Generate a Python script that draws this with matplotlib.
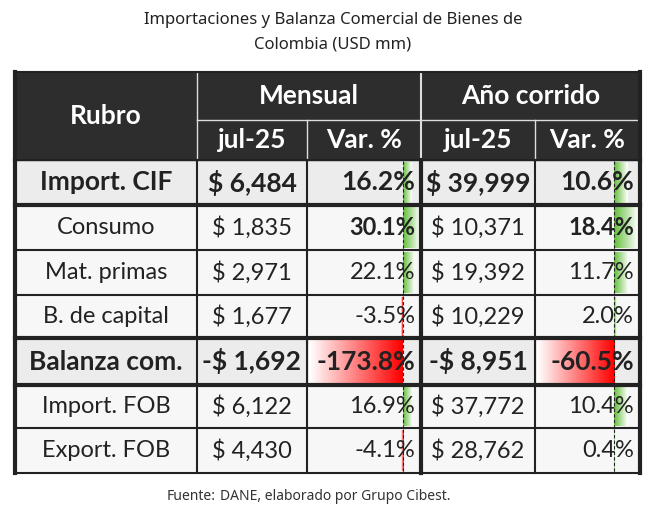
import matplotlib
matplotlib.use("Agg")
import matplotlib.pyplot as plt
import numpy as np
from matplotlib.colors import LinearSegmentedColormap

rubros = ["Import. CIF", "Consumo", "Mat. primas", "B. de capital", "Balanza com.", "Import. FOB", "Export. FOB"]
mensual_val = ["$ 6,484", "$ 1,835", "$ 2,971", "$ 1,677", "-$ 1,692", "$ 6,122", "$ 4,430"]
mensual_var = [16.2, 30.1, 22.1, -3.5, -173.8, 16.9, -4.1]
anual_val = ["$ 39,999", "$ 10,371", "$ 19,392", "$ 10,229", "-$ 8,951", "$ 37,772", "$ 28,762"]
anual_var = [10.6, 18.4, 11.7, 2.0, -60.5, 10.4, 0.4]
bold_rows = [0, 4]

W, H = 670, 509
fig = plt.figure(figsize=(W/100, H/100), dpi=100)
ax = fig.add_axes([0, 0, 1, 1])
ax.set_xlim(0, W); ax.set_ylim(H, 0); ax.axis("off")
F = "Lato"

ax.text(333, 20, "Importaciones y Balanza Comercial de Bienes de", ha="center", va="center", fontsize=12, family="Noto Sans", color="#222")
ax.text(333, 44, "Colombia (USD mm)", ha="center", va="center", fontsize=12, family="Noto Sans", color="#222")
ax.text(216, 497, "Fuente:", ha="right", va="center", fontsize=10, family="Noto Sans", weight="bold", color="#333")
ax.text(220, 497, "DANE, elaborado por Grupo Cibest.", ha="left", va="center", fontsize=10, family="Noto Sans", color="#333")

xs = [15, 197, 307, 421, 535, 640]
top, h1, h2 = 72, 120, 160
rows = [160, 205, 250, 295, 338, 385, 428, 473]
dark = "#2d2d2d"
ax.add_patch(plt.Rectangle((xs[0], top), xs[-1]-xs[0], h2-top, color=dark))
ax.text((xs[0]+xs[1])/2, (top+h2)/2, "Rubro", color="white", ha="center", va="center", fontsize=19, family=F, weight="bold")
ax.text((xs[1]+xs[3])/2, (top+h1)/2, "Mensual", color="white", ha="center", va="center", fontsize=19, family=F, weight="bold")
ax.text((xs[3]+xs[5])/2, (top+h1)/2, "Año corrido", color="white", ha="center", va="center", fontsize=19, family=F, weight="bold")
for i, t in enumerate(["jul-25", "Var. %", "jul-25", "Var. %"]):
    ax.text((xs[i+1]+xs[i+2])/2, (h1+h2)/2, t, color="white", ha="center", va="center", fontsize=19, family=F, weight="bold")
ax.plot([xs[1], xs[5]], [h1, h1], color="#ddd", lw=1)
for x in xs[1:5]:
    ax.plot([x, x], [top if x in (xs[1], xs[3]) else h1, h2], color="#ddd", lw=1.5 if x == xs[3] else 1)

green = LinearSegmentedColormap.from_list("g", ["#63be3b", "#ffffff"])
red = LinearSegmentedColormap.from_list("r", ["#ffffff", "#ff0000"])

def bars(c0, c1, vals, r0, r1, v):
    vmin, vmax = min(min(vals), 0), max(vals)
    width = c1 - c0 - 4
    axis = c0 + 2 + width * (-vmin) / (vmax - vmin)
    ax.plot([axis, axis], [r0+1, r1-1], color="#222", lw=0.8, ls=(0, (3, 2)), zorder=3)
    L = width * abs(v) / (vmax - vmin)
    grad = np.linspace(0, 1, 64).reshape(1, -1)
    if v >= 0:
        ax.imshow(grad, cmap=green, extent=(axis, axis+L, r1-2, r0+2), aspect="auto", zorder=1)
    else:
        ax.imshow(grad, cmap=red, extent=(axis-L, axis, r1-2, r0+2), aspect="auto", zorder=1)

for i, r in enumerate(rubros):
    r0, r1 = rows[i], rows[i+1]
    b = i in bold_rows
    bg = "#ececec" if b else ("#f7f7f7")
    ax.add_patch(plt.Rectangle((xs[0], r0), xs[-1]-xs[0], r1-r0, color=bg, zorder=0))
    bars(xs[2], xs[3], mensual_var, r0, r1, mensual_var[i])
    bars(xs[4], xs[5], anual_var, r0, r1, anual_var[i])
    fs = 19 if b else 17
    wt = "bold" if b else "normal"
    kw = dict(va="center", fontsize=fs, family=F, weight=wt, color="#222", zorder=4)
    yc = (r0+r1)/2
    ax.text((xs[0]+xs[1])/2, yc, r, ha="center", **kw)
    ax.text((xs[1]+xs[2])/2, yc, mensual_val[i], ha="center", **kw)
    ax.text(xs[3]-6, yc, f"{mensual_var[i]:.1f}%", ha="right", **dict(kw, weight="bold" if (b or i == 1) else "normal"))
    ax.text((xs[3]+xs[4])/2, yc, anual_val[i], ha="center", **kw)
    ax.text(xs[5]-6, yc, f"{anual_var[i]:.1f}%", ha="right", **dict(kw, weight="bold" if (b or i == 1) else "normal"))

for j, y in enumerate(rows):
    lw = 3 if j in (1, 4, 5) else 1.5
    ax.plot([xs[0], xs[-1]], [y, y], color="#222", lw=lw, zorder=5)
ax.plot([xs[0], xs[-1]], [top, top], color="#222", lw=1.5, zorder=5)
for x in xs:
    ax.plot([x, x], [h2, rows[-1]], color="#222", lw=3 if x in (xs[0], xs[3], xs[-1]) else 1.5, zorder=5)
ax.plot([xs[0], xs[0]], [top, h2], color="#222", lw=3)
ax.plot([xs[-1], xs[-1]], [top, h2], color="#222", lw=3)
fig.savefig("out.png", dpi=100)
